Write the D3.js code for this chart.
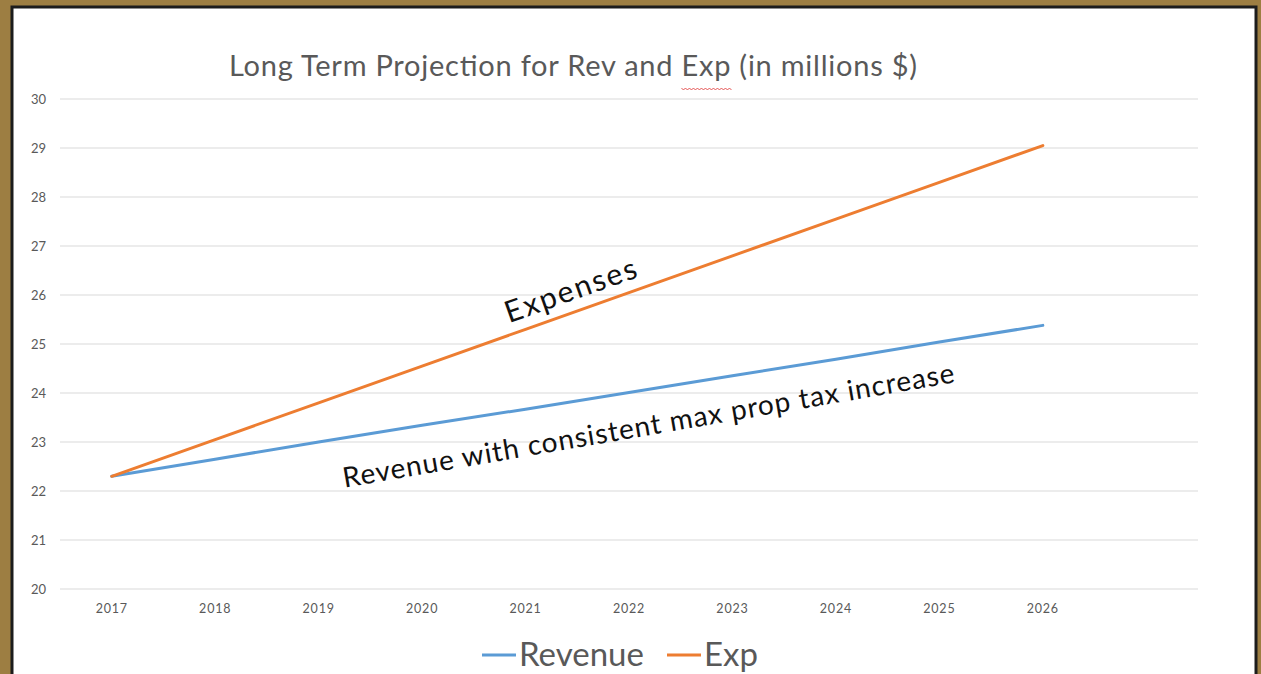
<!DOCTYPE html>
<html>
<head>
<meta charset="utf-8">
<script src="https://d3js.org/d3.v7.min.js"></script>
<style>
  body { margin: 0; background: #9d7e42; }
  svg { display: block; }
</style>
</head>
<body>
<div id="chart"></div>
<script>
// chart values
const years    = ["2017", "2018", "2019", "2020", "2021", "2022", "2023", "2024", "2025", "2026"];
const revenue  = [22.3, 22.65, 23.0, 23.34, 23.67, 24.01, 24.35, 24.69, 25.04, 25.38];
const expenses = [22.3, 23.05, 23.8, 24.55, 25.3, 26.05, 26.8, 27.55, 28.3, 29.05];
const yTicks   = [20, 21, 22, 23, 24, 25, 26, 27, 28, 29, 30];

const W = 1261, H = 674;
const plot = {left: 60, right: 1198, top: 99, bottom: 589};
const grey = "#595959";
const font = "Lato, 'Open Sans', sans-serif";

const svg = d3.select("#chart").append("svg")
    .attr("width", W)
    .attr("height", H);

// frame: gold background, black edge, white page
svg.append("rect").attr("width", W).attr("height", H).attr("fill", "#9d7e42");
svg.append("rect")
    .attr("x", 12).attr("y", 7)
    .attr("width", 1244).attr("height", H)
    .attr("fill", "#fff")
    .attr("stroke", "#1c1c1c").attr("stroke-width", 3);

// 11 slots across the plot, last one left empty
const slot = (plot.right - plot.left) / 11;
const x = d3.scaleBand()
    .domain(years)
    .range([plot.left, plot.left + slot * years.length]);
const y = d3.scaleLinear()
    .domain([20, 30])
    .range([plot.bottom, plot.top]);
const cx = d => x(d) + x.bandwidth() / 2;

// gridlines
svg.append("g")
    .selectAll("line")
    .data(yTicks)
    .join("line")
    .attr("x1", plot.left).attr("x2", plot.right)
    .attr("y1", d => y(d)).attr("y2", d => y(d))
    .attr("stroke", "#d9d9d9").attr("stroke-width", 1);

// y axis labels
const yAxis = svg.append("g")
    .attr("transform", "translate(46,0)")
    .call(d3.axisLeft(y).tickValues(yTicks).tickSize(0).tickPadding(0));
yAxis.select(".domain").remove();
yAxis.selectAll("text")
    .attr("fill", grey).attr("font-size", 13).attr("font-family", font);

// x axis labels
const xAxis = svg.append("g")
    .attr("transform", "translate(0," + (plot.bottom + 15) + ")")
    .call(d3.axisBottom(x).tickSize(0).tickPadding(0));
xAxis.select(".domain").remove();
xAxis.selectAll("text")
    .attr("fill", grey).attr("font-size", 12.5).attr("font-family", font)
    .attr("letter-spacing", 0.8);

// lines
const line = d3.line()
    .x((d, i) => cx(years[i]))
    .y(d => y(d));

svg.append("path")
    .datum(revenue)
    .attr("fill", "none")
    .attr("stroke", "#5b9bd5").attr("stroke-width", 3)
    .attr("stroke-linecap", "round")
    .attr("d", line);

svg.append("path")
    .datum(expenses)
    .attr("fill", "none")
    .attr("stroke", "#ed7d31").attr("stroke-width", 3)
    .attr("stroke-linecap", "round")
    .attr("d", line);

// title
const title = svg.append("text")
    .attr("x", 573).attr("y", 76)
    .attr("text-anchor", "middle")
    .attr("fill", grey)
    .attr("font-size", 29)
    .attr("font-family", font)
    .attr("textLength", 688)
    .attr("lengthAdjust", "spacing")
    .text("Long Term Projection for Rev and Exp (in millions $)");

// spell-check squiggle under "Exp"
const t = title.node();
const full = t.textContent;
const i0 = full.indexOf("Exp");
const sx = t.getStartPositionOfChar(i0).x;
const sw = t.getEndPositionOfChar(i0 + 2).x - sx;
let sq = "M" + sx + ",88";
for (let px = sx, k = 0; px < sx + sw; px += 2, k++) {
    sq += " L" + (px + 2) + "," + (k % 2 ? 88 : 90);
}
svg.append("path").attr("d", sq)
    .attr("fill", "none").attr("stroke", "#e03030").attr("stroke-width", 0.8);

// annotations along the lines
svg.append("text")
    .attr("transform", "translate(574,300) rotate(-19.6)")
    .attr("text-anchor", "middle")
    .attr("font-size", 30)
    .attr("font-family", font)
    .attr("fill", "#111")
    .attr("textLength", 138)
    .attr("lengthAdjust", "spacing")
    .text("Expenses");

svg.append("text")
    .attr("transform", "translate(650,435) rotate(-9.8)")
    .attr("text-anchor", "middle")
    .attr("font-size", 28)
    .attr("font-family", font)
    .attr("fill", "#111")
    .attr("textLength", 620)
    .attr("lengthAdjust", "spacing")
    .text("Revenue with consistent max prop tax increase");

// legend
const legend = [
    {name: "Revenue", color: "#5b9bd5", x: 482},
    {name: "Exp", color: "#ed7d31", x: 667}
];
const lg = svg.append("g").selectAll("g")
    .data(legend)
    .join("g")
    .attr("transform", d => "translate(" + d.x + ",655)");
lg.append("line")
    .attr("x1", 0).attr("x2", 34)
    .attr("stroke", d => d.color).attr("stroke-width", 3);
lg.append("text")
    .attr("x", 37).attr("y", 11)
    .attr("fill", grey)
    .attr("font-size", 33)
    .attr("font-family", font)
    .text(d => d.name);
</script>
</body>
</html>
